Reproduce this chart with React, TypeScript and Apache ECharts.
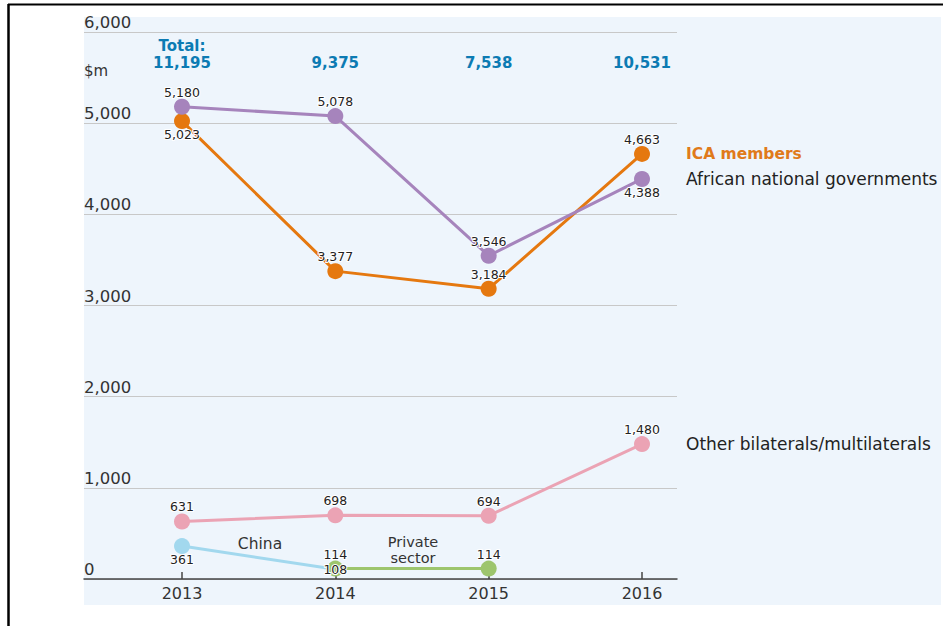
import { useEffect, useRef } from "react";
import * as echarts from "echarts";

const years = ["2013", "2014", "2015", "2016"];
const icaMembers = [5023, 3377, 3184, 4663];
const africanGovts = [5180, 5078, 3546, 4388];
const otherBilaterals = [631, 698, 694, 1480];
const china: (number | null)[] = [361, 108, null, null];
const privateSector: (number | null)[] = [null, 114, 114, null];
const totals = [11195, 9375, 7538, 10531];
const yMin = 0;
const yMax = 6000;
const yInterval = 1000;

// label placement (style only)
const icaPos = ["bottom", "top", "top", "top"];
const afrPos = ["top", "top", "top", "bottom"];
const othPos = ["top", "top", "top", "top"];
const chinaPos = ["bottom", "inside", "top", "top"];
const privPos = ["top", "top", "top", "top"];
const TOTAL_LEVEL = 5660;

const FONT = "DejaVu Sans";
const fmt = (v: number) => v.toLocaleString("en-US");

function items(vals: (number | null)[], pos: string[], extra?: (i: number) => any) {
  return vals.map((v, i) =>
    v == null
      ? null
      : {
          value: v,
          label: { position: pos[i], distance: pos[i] === "top" ? 0 : -1 },
          ...(extra ? extra(i) : {}),
        }
  );
}

export default function App() {
  const ref = useRef<HTMLDivElement>(null);
  useEffect(() => {
    const chart = echarts.init(ref.current!, null, { renderer: "svg" });
    const dataLabel = {
      show: true,
      fontFamily: FONT,
      fontSize: 12.5,
      color: "#222",
      textBorderColor: "#fff",
      textBorderWidth: 2,
      formatter: (p: any) => fmt(p.value),
    };
    const endLabel = (color: string, bold = false) => ({
      show: true,
      formatter: "{a}",
      distance: 44,
      fontFamily: FONT,
      fontSize: bold ? 15.5 : 17,
      fontWeight: bold ? "bold" : "normal",
      color,
    });
    const line = (name: string, color: string, data: any[], extra: any = {}) => ({
      type: "line",
      name,
      xAxisIndex: 1,
      yAxisIndex: 1,
      data,
      symbol: "circle",
      symbolSize: 16,
      connectNulls: false,
      lineStyle: { color, width: 3 },
      itemStyle: { color },
      label: dataLabel,
      emphasis: { disabled: true },
      ...extra,
    });
    chart.setOption({
      animation: false,
      backgroundColor: "#fff",
      graphic: [
        { type: "rect", z: -10, shape: { x: 84, y: 17, width: 857, height: 588 }, style: { fill: "#eef5fc" } },
        { type: "line", z: 10, shape: { x1: 8, y1: 4.5, x2: 943, y2: 4.5 }, style: { stroke: "#000", lineWidth: 2 } },
        { type: "line", z: 10, shape: { x1: 8.5, y1: 4, x2: 8.5, y2: 626 }, style: { stroke: "#000", lineWidth: 2.5 } },
        { type: "text", x: 84, y: 71, style: { text: "$m", font: `15px ${FONT}`, fill: "#333", verticalAlign: "middle" } },
        { type: "text", x: 260, y: 544, style: { text: "China", font: `15.5px ${FONT}`, fill: "#333", align: "center", verticalAlign: "middle" } },
        { type: "text", x: 413, y: 534, style: { text: "Private", font: `14.5px ${FONT}`, fill: "#333", align: "center", verticalAlign: "top" } },
        { type: "text", x: 413, y: 550, style: { text: "sector", font: `14.5px ${FONT}`, fill: "#333", align: "center", verticalAlign: "top" } },
      ],
      grid: [
        { left: 84, right: 266, top: 32, bottom: 47 },
        { left: 182, right: 301, top: 32, bottom: 47 },
      ],
      xAxis: [
        {
          gridIndex: 0,
          type: "value",
          min: 0,
          max: 1,
          axisLine: { show: true, lineStyle: { color: "#444", width: 1.5 } },
          axisTick: { show: false },
          axisLabel: { show: false },
          splitLine: { show: false },
        },
        {
          gridIndex: 1,
          type: "category",
          data: years,
          boundaryGap: false,
          axisLine: { show: false },
          axisTick: { show: true, inside: true, length: 7, lineStyle: { color: "#444", width: 1.5 } },
          axisLabel: { fontFamily: FONT, fontSize: 16, color: "#333", margin: 6 },
          splitLine: { show: false },
        },
      ],
      yAxis: [
        {
          gridIndex: 0,
          type: "value",
          min: yMin,
          max: yMax,
          interval: yInterval,
          axisLine: { show: false },
          axisTick: { show: false },
          axisLabel: {
            inside: true,
            margin: 0,
            align: "left",
            verticalAlign: "bottom",
            padding: [0, 0, 1, 0],
            fontFamily: FONT,
            fontSize: 16.5,
            color: "#333",
            formatter: (v: number) => fmt(v),
          },
          splitLine: { show: true, lineStyle: { color: "#c8c8c8", width: 1 } },
        },
        { gridIndex: 1, type: "value", min: yMin, max: yMax, show: false },
      ],
      series: [
        line("Other bilaterals/multilaterals", "#eba3b4", items(otherBilaterals, othPos), {
          endLabel: endLabel("#222"),
        }),
        line("China", "#a2d8ee", items(china, chinaPos, (i) => (i === 1 ? { symbolSize: 0 } : {}))),
        line("Private sector", "#9dc56d", items(privateSector, privPos)),
        line("ICA members", "#e5780f", items(icaMembers, icaPos), {
          endLabel: endLabel("#e07a1a", true),
        }),
        line("African national governments", "#a684bc", items(africanGovts, afrPos), {
          endLabel: endLabel("#222"),
        }),
        {
          type: "scatter",
          name: "Total",
          xAxisIndex: 1,
          yAxisIndex: 1,
          symbolSize: 0,
          silent: true,
          itemStyle: { color: "#0c7bb3", opacity: 1 },
          data: totals.map((t, i) => ({
            value: TOTAL_LEVEL,
            label:
              i === 0
                ? { formatter: "Total:\n" + fmt(t), offset: [0, -8.5] }
                : { formatter: fmt(t) },
          })),
          label: {
            show: true,
            position: "inside",
            fontFamily: FONT,
            fontSize: 15,
            fontWeight: "bold",
            lineHeight: 17,
            color: "#0c7bb3",
            opacity: 1,
            textBorderWidth: 0,
            textBorderColor: "transparent",
            align: "center",
          },
        },
      ],
    });
    return () => chart.dispose();
  }, []);
  return <div ref={ref} style={{ position: "absolute", left: 0, top: 0, width: 943, height: 626 }} />;
}
